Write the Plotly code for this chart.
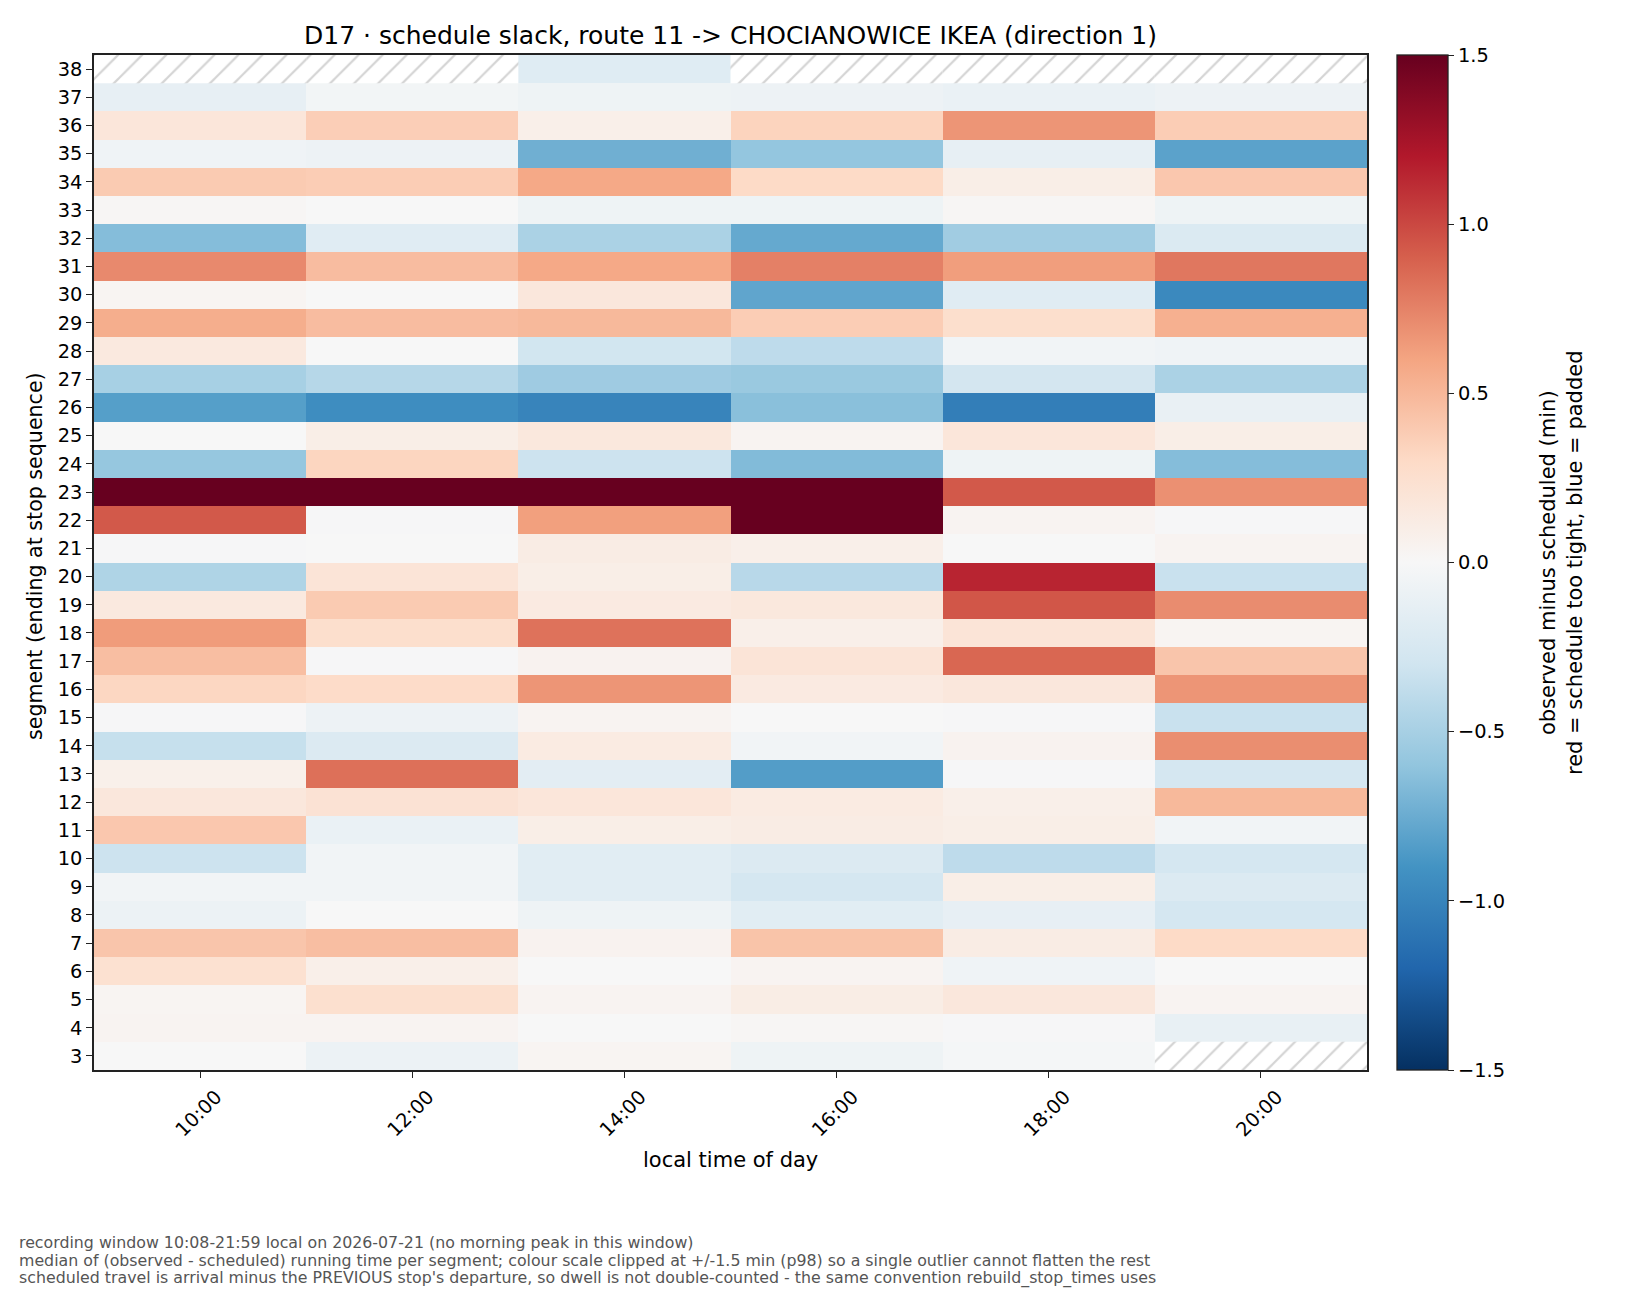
#!/usr/bin/env python3
"""D17 schedule slack heatmap: route 11 -> CHOCIANOWICE IKEA, direction 1."""

import plotly.graph_objects as go

# time-of-day bins (columns) and segments (rows, ending at stop sequence)
HOURS = ["10:00", "12:00", "14:00", "16:00", "18:00", "20:00"]
SEGMENTS = list(range(3, 39))

# median (observed - scheduled) running time, minutes, segment 3 -> 38; None = no data
SLACK_1000 = [0.00, 0.04, 0.03, 0.24, 0.42, -0.09, -0.05, -0.32, 0.41, 0.17,
              0.08, -0.35, -0.01, 0.32, 0.46, 0.64, 0.15, -0.46, -0.01, 0.93,
              1.62, -0.58, 0.00, -0.83, -0.50, 0.15, 0.55, 0.03, 0.72, -0.65,
              0.02, 0.39, -0.06, 0.18, -0.13, None]
SLACK_1200 = [-0.09, 0.04, 0.25, 0.09, 0.46, 0.00, -0.05, -0.05, -0.10, 0.22,
              0.83, -0.21, -0.08, 0.29, -0.01, 0.26, 0.39, 0.20, 0.00, -0.01,
              1.85, 0.33, 0.10, -0.94, -0.43, 0.00, 0.47, 0.00, 0.47, -0.18,
              0.00, 0.38, -0.08, 0.37, -0.04, None]
SLACK_1400 = [0.03, 0.00, 0.04, 0.00, 0.05, -0.07, -0.17, -0.17, 0.10, 0.18,
              -0.16, 0.13, 0.04, 0.67, 0.05, 0.82, 0.14, 0.10, 0.12, 0.62,
              1.71, -0.32, 0.16, -1.00, -0.54, -0.29, 0.49, 0.17, 0.58, -0.48,
              -0.07, 0.58, -0.73, 0.09, -0.07, -0.19]
SLACK_1600 = [-0.07, 0.02, 0.11, 0.04, 0.43, -0.17, -0.27, -0.21, 0.12, 0.13,
              -0.84, -0.05, 0.00, 0.14, 0.20, 0.09, 0.16, -0.42, 0.09, 1.90,
              2.05, -0.66, 0.04, -0.63, -0.56, -0.39, 0.38, -0.79, 0.76, -0.77,
              -0.07, 0.30, -0.59, 0.34, -0.08, None]
SLACK_1800 = [-0.02, -0.01, 0.17, -0.06, 0.12, -0.13, 0.10, -0.39, 0.10, 0.09,
              -0.01, 0.05, -0.01, 0.17, 0.87, 0.20, 0.94, 1.15, 0.00, 0.04,
              0.93, -0.07, 0.18, -1.04, -0.28, -0.05, 0.26, -0.18, 0.63, -0.53,
              0.02, 0.10, -0.13, 0.67, -0.10, None]
SLACK_2000 = [None, -0.12, 0.04, 0.00, 0.30, -0.27, -0.21, -0.27, -0.05, 0.49,
              -0.27, 0.70, -0.34, 0.67, 0.42, 0.03, 0.71, -0.34, 0.04, -0.01,
              0.69, -0.65, 0.10, -0.11, -0.48, -0.06, 0.54, -0.97, 0.80, -0.22,
              -0.07, 0.41, -0.81, 0.38, -0.08, None]

CLIP = 1.5
CB_TICKS = [-1.5, -1.0, -0.5, 0.0, 0.5, 1.0, 1.5]

FOOTER = [
    "recording window 10:08-21:59 local on 2026-07-21 (no morning peak in this window)",
    "median of (observed - scheduled) running time per segment; colour scale clipped at "
    "+/-1.5 min (p98) so a single outlier cannot flatten the rest",
    "scheduled travel is arrival minus the PREVIOUS stop's departure, so dwell is not "
    "double-counted - the same convention rebuild_stop_times uses",
]

# matplotlib RdBu_r
RDBU_R = ["#053061", "#2166ac", "#4393c3", "#92c5de", "#d1e5f0", "#f7f7f7",
          "#fddbc7", "#f4a582", "#d6604d", "#b2182b", "#67001f"]
colorscale = [[i / (len(RDBU_R) - 1), c] for i, c in enumerate(RDBU_R)]

columns = [SLACK_1000, SLACK_1200, SLACK_1400, SLACK_1600, SLACK_1800, SLACK_2000]
z = [[col[i] for col in columns] for i in range(len(SEGMENTS))]

# cells with no data get hatched
nan_x, nan_base = [], []
for j, col in enumerate(columns):
    for i, v in enumerate(col):
        if v is None:
            nan_x.append(j)
            nan_base.append(SEGMENTS[i] - 0.5)

FONT = "DejaVu Sans"
W, H = 1650, 1296
OFF = 8  # page body margin of the html output
# plot box in screenshot pixels: x 94..1367, y 55..1070
L, T = 94 - OFF, 55 - OFF
R, B = W - (1367 - OFF), H - (1070 - OFF)
PW, PH = W - L - R, H - T - B


def px_x(x):
    return (x - OFF - L) / PW


def px_y(y):
    return (H - B - (y - OFF)) / PH


fig = go.Figure()

fig.add_trace(go.Heatmap(
    z=z, x=list(range(len(HOURS))), y=SEGMENTS,
    zmin=-CLIP, zmax=CLIP, colorscale=colorscale,
    hoverongaps=False,
    colorbar=dict(
        x=px_x(1397), xanchor="left", xpad=0,
        y=0.5, yanchor="middle", len=1, lenmode="fraction", ypad=0,
        thickness=51, thicknessmode="pixels",
        outlinecolor="#222", outlinewidth=1.3,
        tickvals=CB_TICKS,
        ticktext=[f"{v:.1f}".replace("-", "\u2212") for v in CB_TICKS],
        ticks="outside", ticklen=6, tickwidth=1.3, tickcolor="#222",
        tickfont=dict(family=FONT, size=19.4, color="black"),
    ),
))

fig.add_trace(go.Bar(
    x=nan_x, y=[1] * len(nan_x), base=nan_base, width=1,
    marker=dict(color="white", line_width=0,
                pattern=dict(shape="/", fgcolor="#aaaaaa", bgcolor="white",
                             size=17, solidity=0.13)),
    hoverinfo="skip", showlegend=False,
))

axis_common = dict(
    showgrid=False, zeroline=False, showline=True, mirror=True,
    linecolor="#222", linewidth=1.5,
    ticks="outside", ticklen=6, tickwidth=1.3, tickcolor="#222",
    tickfont=dict(family=FONT, size=19.4, color="black"),
)

fig.update_xaxes(
    range=[-0.5, len(HOURS) - 0.5],
    tickvals=list(range(len(HOURS))), ticktext=HOURS, tickangle=-45,
    ticklabelshift=16,
    **axis_common,
)
fig.update_yaxes(
    range=[SEGMENTS[0] - 0.5, SEGMENTS[-1] + 0.5],
    tickvals=SEGMENTS, ticktext=[str(s) for s in SEGMENTS],
    **axis_common,
)

annotations = [
    dict(text="local time of day", x=0.5, y=px_y(1160), xanchor="center",
         yanchor="middle", font=dict(size=21)),
    dict(text="segment (ending at stop sequence)", x=px_x(35), y=px_y(556),
         xanchor="center", yanchor="middle", textangle=-90, font=dict(size=20.6)),
    dict(text="observed minus scheduled (min)<br>red = schedule too tight, blue = padded",
         x=px_x(1561), y=px_y(563), xanchor="center", yanchor="middle", textangle=-90,
         font=dict(size=21)),
]
for k, line in enumerate(FOOTER):
    annotations.append(dict(text=line, x=px_x(17), y=px_y(1242 + 18 * k),
                            xanchor="left", yanchor="middle",
                            font=dict(size=15.8, color="#555555")))
for a in annotations:
    a.update(xref="paper", yref="paper", showarrow=False)
    a["font"].setdefault("color", "black")
    a["font"]["family"] = FONT

fig.update_layout(
    width=W, height=H,
    margin=dict(l=L, r=R, t=T, b=B),
    paper_bgcolor="white", plot_bgcolor="white",
    title=dict(text="D17 \u00b7 schedule slack, route 11 -> CHOCIANOWICE IKEA (direction 1)",
               x=0.5, xref="paper", xanchor="center",
               y=1 - (35 - OFF) / H, yref="container", yanchor="middle",
               font=dict(family=FONT, size=25, color="black")),
    annotations=annotations,
    barmode="overlay",
    showlegend=False,
)

fig.write_html("out.html")
